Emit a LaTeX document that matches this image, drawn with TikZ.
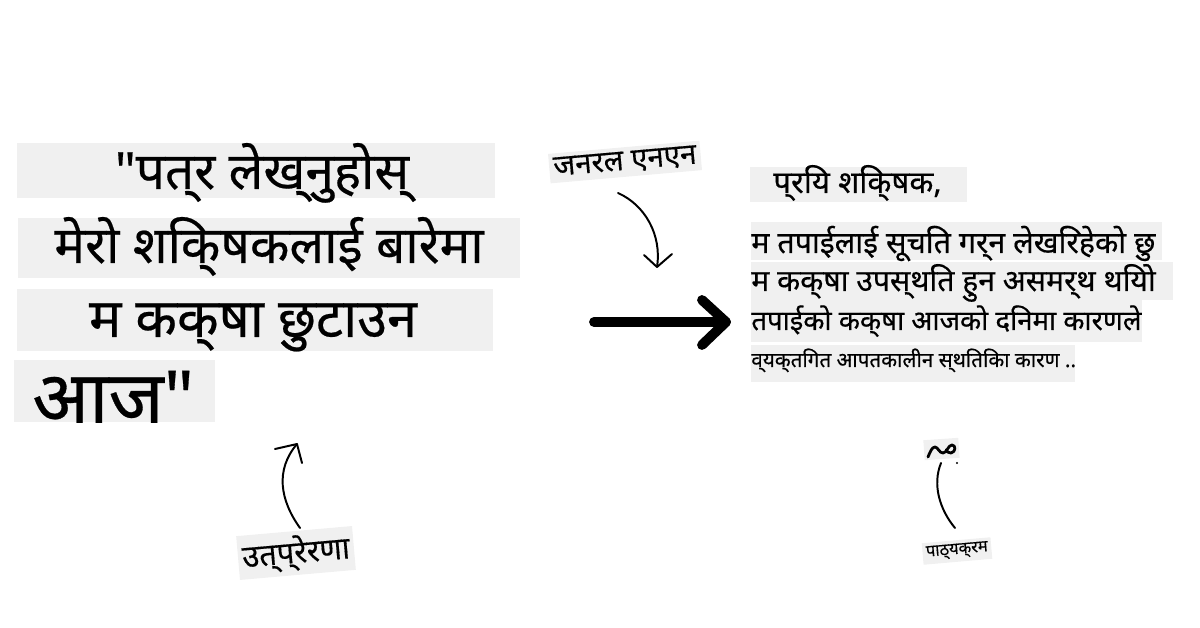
\documentclass[tikz,border=0pt]{standalone}
\usepackage{fontspec}
\usetikzlibrary{calc}
\newfontfamily\dev[FakeBold=0.4]{Noto Sans}
\definecolor{boxgray}{RGB}{240,240,240}
\tikzset{
  gbox/.style={fill=boxgray, draw=none, inner sep=0pt, anchor=north west},
  txt/.style={inner sep=0pt, font=\dev},
  thin arrow/.style={line width=1.4pt, line cap=round, line join=round},
}
\begin{document}
\begin{tikzpicture}[x=0.025cm,y=-0.025cm]
\useasboundingbox (0,0) rectangle (1200,628);
% left boxes
\node[gbox, minimum width=478*0.025cm, minimum height=55*0.025cm] (b1) at (17,143) {};
\node[gbox, minimum width=502*0.025cm, minimum height=60*0.025cm] (b2) at (18,218) {};
\node[gbox, minimum width=476*0.025cm, minimum height=62*0.025cm] (b3) at (17,289) {};
\node[gbox, minimum width=201*0.025cm, minimum height=62*0.025cm] (b4) at (14,360) {};
\node[txt, anchor=base, font=\dev\fontsize{36.5}{36}\selectfont] (t1) at (262,189) {"पत्र लेख्नुहोस्};
\node[txt, anchor=base, font=\dev\fontsize{36.5}{36}\selectfont] (t2) at (269,263) {मेरो शिक्षकलाई बारेमा};
\node[txt, anchor=base, font=\dev\fontsize{38.5}{38}\selectfont] (t3) at (253,337) {म कक्षा छुटाउन};
\begin{scope}
\clip (14,360) rectangle (215,422);
\node[txt, anchor=base west, font=\dev\fontsize{53}{53}\selectfont] (t4) at (32,424) {आज"};
\end{scope}
% right boxes
\node[gbox, minimum width=217*0.025cm, minimum height=35*0.025cm] (r1) at (750,167) {};
\node[gbox, minimum width=411*0.025cm, minimum height=38*0.025cm] (r2) at (751,222) {};
\node[gbox, minimum width=422*0.025cm, minimum height=38*0.025cm] (r3) at (751,262) {};
\node[gbox, minimum width=391*0.025cm, minimum height=42*0.025cm] (r4) at (751,300) {};
\node[gbox, minimum width=324*0.025cm, minimum height=37*0.025cm] (r5) at (751,345) {};
\node[txt, anchor=base west, font=\dev\fontsize{22.2}{22}\selectfont] (s1) at (773,193) {प्रिय शिक्षक,};
\node[txt, anchor=base west, font=\dev\fontsize{21.6}{22}\selectfont] (s2) at (751,253) {म तपाईलाई सूचित गर्न लेखिरहेको छु};
\node[txt, anchor=base west, font=\dev\fontsize{21.4}{22}\selectfont] (s3) at (751,291) {म कक्षा उपस्थित हुन असमर्थ थियो};
\node[txt, anchor=base west, font=\dev\fontsize{19.6}{20}\selectfont] (s4) at (751,330) {तपाईको कक्षा आजको दिनमा कारणले};
\node[txt, anchor=base west, font=\dev\fontsize{14.7}{15}\selectfont] (s5) at (751,367) {व्यक्तिगत आपतकालीन स्थितिका कारण ..};
% labels
\node[txt, fill=boxgray, inner sep=3pt, rotate=5, font=\dev\fontsize{21}{21}\selectfont] (gnn) at (625,162) {जनरल एनएन};
\node[txt, fill=boxgray, inner sep=3pt, rotate=5, font=\dev\fontsize{22}{22}\selectfont] (prm) at (296,553) {उत्प्रेरणा};
\node[txt, fill=boxgray, inner sep=2.5pt, rotate=5, font=\dev\fontsize{11.7}{12}\selectfont] (cur) at (957,551) {पाठ्यक्रम};
% squiggle box
\node[gbox, minimum width=35*0.025cm, minimum height=20*0.025cm, rotate=4] (sq) at (923,440) {};
\draw[line width=2pt, line cap=round, line join=round] (928,457) .. controls (930,452) and (932,447) .. (935,447) .. controls (938,447) and (939,453) .. (943,453) .. controls (947,453) and (948,445) .. (952,445) .. controls (956,445) and (956,452) .. (951,453) .. controls (949,453) and (947,452) .. (946,450);
\fill (957,463) circle (1.1);
% coordinates for curves
\coordinate (g1) at (618,193);
\coordinate (g2) at (657,267);
\coordinate (p1) at (300,528);
\coordinate (p2) at (297,444);
\coordinate (c1) at (955,528);
\coordinate (c2) at (941,463);
\coordinate (a1) at (594,322);
\coordinate (a2) at (726,322);
\draw[thin arrow] (g1) .. controls (645,205) and (662,235) .. (g2);
\draw[thin arrow] ($(g2)+(-13,-12)$) -- (g2) -- ($(g2)+(15,-13)$);
\draw[thin arrow] (p1) .. controls (280,500) and (275,470) .. (p2);
\draw[thin arrow] ($(p2)+(-22,5)$) -- (p2) -- ($(p2)+(5,19)$);
\draw[thin arrow] (c1) .. controls (940,510) and (932,485) .. (c2);
\draw[line width=7pt, line cap=round, line join=round] (a1) -- (a2);
\draw[line width=7pt, line cap=round, line join=round] ($(a2)+(-24,-22)$) -- (a2) -- ($(a2)+(-24,23)$);
\end{tikzpicture}
\end{document}
